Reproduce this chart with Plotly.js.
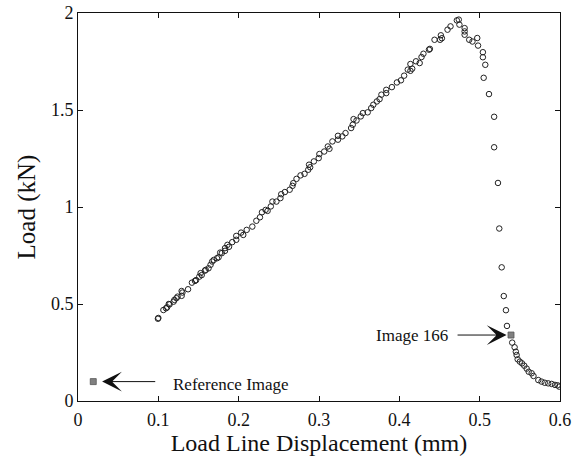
<!DOCTYPE html>
<html>
<head>
<meta charset="utf-8">
<script src="https://cdn.plot.ly/plotly-3.0.1.min.js"></script>
<style>html,body{margin:0;padding:0;background:#fff}#plot{width:582px;height:460px}</style>
</head>
<body>
<div id="plot"></div>
<script>
// Load–displacement measurements (mm, kN)
const dispRise = [0.0995,0.1000,0.1063,0.1096,0.1110,0.1130,0.1140,0.1190,0.1200,0.1225,0.1240,0.1290,0.1290,0.1300,0.1370,0.1418,0.1456,0.1470,0.1510,0.1526,0.1540,0.1580,0.1590,0.1625,0.1650,0.1670,0.1690,0.1730,0.1750,0.1770,0.1790,0.1830,0.1830,0.1860,0.1880,0.1920,0.1970,0.1970,0.2030,0.2057,0.2100,0.2170,0.2220,0.2265,0.2290,0.2335,0.2360,0.2400,0.2420,0.2470,0.2520,0.2530,0.2575,0.2635,0.2670,0.2680,0.2720,0.2770,0.2820,0.2866,0.2876,0.2890,0.2936,0.2996,0.3005,0.3065,0.3110,0.3130,0.3167,0.3236,0.3236,0.3290,0.3330,0.3400,0.3420,0.3430,0.3467,0.3520,0.3546,0.3606,0.3650,0.3676,0.3720,0.3754,0.3777,0.3837,0.3837,0.3907,0.3970,0.4020,0.4060,0.4105,0.4138,0.4138,0.4160,0.4207,0.4253,0.4276,0.4300,0.4369,0.4380,0.4438,0.4507,0.4517,0.4530,0.4600,0.4637,0.4716,0.4740,0.4748];
const loadRise = [0.424,0.428,0.469,0.478,0.483,0.500,0.498,0.512,0.521,0.530,0.538,0.567,0.542,0.559,0.576,0.610,0.619,0.623,0.641,0.659,0.649,0.672,0.676,0.684,0.702,0.719,0.727,0.736,0.741,0.765,0.762,0.788,0.774,0.805,0.795,0.819,0.831,0.851,0.868,0.856,0.882,0.899,0.929,0.947,0.973,0.985,0.980,1.003,1.028,1.028,1.046,1.066,1.077,1.089,1.109,1.123,1.145,1.163,1.171,1.192,1.218,1.205,1.235,1.252,1.273,1.286,1.312,1.300,1.338,1.347,1.367,1.364,1.381,1.407,1.424,1.453,1.446,1.467,1.484,1.488,1.510,1.527,1.544,1.556,1.579,1.587,1.604,1.618,1.642,1.653,1.677,1.708,1.702,1.737,1.713,1.751,1.742,1.773,1.790,1.811,1.815,1.862,1.862,1.885,1.870,1.914,1.931,1.962,1.966,1.940];
const dispFall = [0.4813,0.4813,0.4813,0.4870,0.4910,0.4970,0.4980,0.5040,0.5040,0.5070,0.5050,0.5116,0.5180,0.5180,0.5228,0.5244,0.5274,0.5300,0.5327,0.5340,0.5405,0.5435,0.5450,0.5460,0.5473,0.5500,0.5527,0.5555,0.5585,0.5610,0.5647,0.5670,0.5730,0.5770,0.5810,0.5853,0.5896,0.5937,0.5970,0.5990];
const loadFall = [1.922,1.905,1.888,1.862,1.853,1.871,1.832,1.798,1.772,1.733,1.666,1.582,1.465,1.308,1.124,0.889,0.689,0.541,0.468,0.387,0.301,0.277,0.254,0.237,0.215,0.203,0.194,0.182,0.167,0.151,0.143,0.129,0.108,0.100,0.094,0.091,0.088,0.083,0.081,0.074];
// Highlighted images
const imgLabels = ["Reference Image", "Image 166"];
const imgDisp = [0.019, 0.539];
const imgLoad = [0.100, 0.340];

const xTicks = [0, 0.1, 0.2, 0.3, 0.4, 0.5, 0.6];
const xTickText = ["0", "0.1", "0.2", "0.3", "0.4", "0.5", "0.6"];
const yTicks = [0, 0.5, 1, 1.5, 2];
const yTickText = ["0", "0.5", "1", "1.5", "2"];

const FONT = "Liberation Serif, Times New Roman, serif";

const traces = [
  {
    x: dispRise.concat(dispFall),
    y: loadRise.concat(loadFall),
    type: "scatter", mode: "markers",
    marker: {symbol: "circle-open", size: 5.5, color: "#222", line: {width: 1, color: "#222"}},
    hoverinfo: "skip"
  },
  {
    x: imgDisp, y: imgLoad,
    type: "scatter", mode: "markers",
    marker: {symbol: "square", size: 6, color: "#808080", line: {width: 0.8, color: "#555"}},
    hoverinfo: "skip"
  }
];

const layout = {
  width: 582, height: 460,
  margin: {l: 78, r: 22, t: 13, b: 59},
  paper_bgcolor: "#fff", plot_bgcolor: "#fff",
  showlegend: false,
  font: {family: FONT, color: "#111", size: 18},
  xaxis: {
    range: [0, 0.6], tickvals: xTicks, ticktext: xTickText,
    ticks: "inside", ticklen: 5, tickcolor: "#111", tickwidth: 1,
    showline: true, linecolor: "#111", linewidth: 1, mirror: "ticks",
    showgrid: false, zeroline: false, ticklabelstandoff: 2,
    tickfont: {family: FONT, size: 18, color: "#111"},
    title: {text: "Load Line Displacement (mm)", font: {family: FONT, size: 24, color: "#111"}, standoff: 0}
  },
  yaxis: {
    range: [0, 2], tickvals: yTicks, ticktext: yTickText,
    ticks: "inside", ticklen: 5, tickcolor: "#111", tickwidth: 1,
    showline: true, linecolor: "#111", linewidth: 1, mirror: "ticks",
    showgrid: false, zeroline: false,
    tickfont: {family: FONT, size: 18, color: "#111"},
    title: {text: "Load (kN)", font: {family: FONT, size: 25, color: "#111"}, standoff: 8}
  },
  annotations: [
    {
      x: imgDisp[0] + 0.011, y: imgLoad[0], ax: 0.098, ay: imgLoad[0],
      xref: "x", yref: "y", axref: "x", ayref: "y",
      text: "", showarrow: true, arrowhead: 3, arrowsize: 3.3, arrowwidth: 1, arrowcolor: "#111", standoff: 0
    },
    {
      x: 0.116, y: 0.086, xref: "x", yref: "y", xanchor: "left", yanchor: "middle",
      text: imgLabels[0], showarrow: false, font: {family: FONT, size: 17, color: "#111"}
    },
    {
      x: imgDisp[1] - 0.0055, y: imgLoad[1], ax: 0.4706, ay: imgLoad[1],
      xref: "x", yref: "y", axref: "x", ayref: "y",
      text: "", showarrow: true, arrowhead: 3, arrowsize: 3.3, arrowwidth: 1, arrowcolor: "#111", standoff: 0
    },
    {
      x: 0.463, y: imgLoad[1], xref: "x", yref: "y", xanchor: "right", yanchor: "middle",
      text: imgLabels[1], showarrow: false, font: {family: FONT, size: 17, color: "#111"}
    }
  ]
};

Plotly.newPlot("plot", traces, layout, {staticPlot: true, displayModeBar: false});
</script>
</body>
</html>
